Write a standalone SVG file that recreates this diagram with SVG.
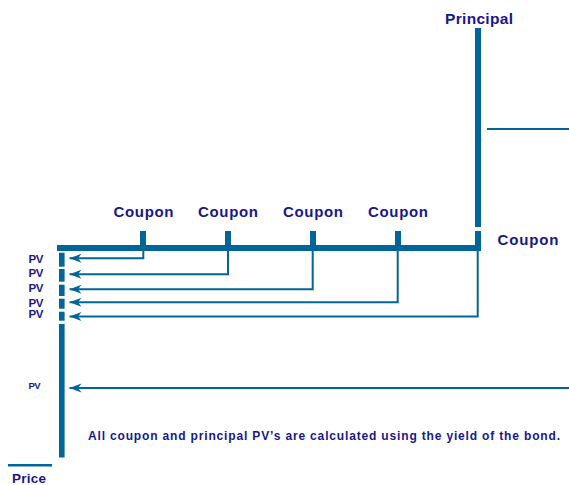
<svg xmlns="http://www.w3.org/2000/svg" width="569" height="485" viewBox="0 0 569 485">
<style>
.bar{fill:#006699}
.ln{fill:none;stroke:#006699;stroke-width:2}
.t{font-family:"Liberation Sans",Arial,sans-serif;font-weight:bold;fill:#18188a}
</style>
<defs>
<marker id="ah" markerUnits="userSpaceOnUse" markerWidth="14" markerHeight="12" viewBox="0 -6 14 12" refX="12" refY="0" orient="auto">
<path d="M12,0 L0,-4.5 L3.5,0 L0,4.5 Z" fill="#006699"/>
</marker>
</defs>
<rect width="569" height="485" fill="#fff"/>
<g id="timeline">
<rect class="bar" x="57" y="245" width="424" height="6"/>
</g>
<g id="coupon1"><rect class="bar" x="140" y="231" width="6" height="14"/><text class="t" x="113.5" y="217" font-size="15" textLength="60">Coupon</text></g>
<g id="coupon2"><rect class="bar" x="225" y="231" width="6" height="14"/><text class="t" x="198" y="217" font-size="15" textLength="60">Coupon</text></g>
<g id="coupon3"><rect class="bar" x="310" y="231" width="6" height="14"/><text class="t" x="283" y="217" font-size="15" textLength="60">Coupon</text></g>
<g id="coupon4"><rect class="bar" x="395" y="231" width="6" height="14"/><text class="t" x="368" y="217" font-size="15" textLength="60">Coupon</text></g>
<g id="coupon5"><rect class="bar" x="475" y="231" width="6" height="14"/><text class="t" x="497.5" y="245" font-size="15" textLength="61">Coupon</text></g>
<g id="principal"><rect class="bar" x="475" y="28" width="6" height="199"/><text class="t" x="445" y="23.5" font-size="15.5" textLength="68">Principal</text><line class="ln" x1="487" y1="129" x2="569" y2="129"/></g>
<g id="price-axis">
<rect class="bar" x="59" y="252.7" width="5.6" height="14"/>
<rect class="bar" x="59" y="269" width="5.6" height="12.7"/>
<rect class="bar" x="59" y="284.7" width="5.6" height="11.3"/>
<rect class="bar" x="59" y="298.7" width="5.6" height="10"/>
<rect class="bar" x="59" y="311.7" width="5.6" height="9"/>
<rect class="bar" x="59" y="324" width="5.6" height="133.5"/>
<text class="t" x="28.5" y="263" font-size="11.5" textLength="15">PV</text>
<text class="t" x="28.5" y="277" font-size="11.5" textLength="15">PV</text>
<text class="t" x="28.5" y="292" font-size="11.5" textLength="15">PV</text>
<text class="t" x="28.5" y="307" font-size="11.5" textLength="15">PV</text>
<text class="t" x="28.5" y="318.3" font-size="11.5" textLength="15">PV</text>
<text class="t" x="28.5" y="389" font-size="9.5" textLength="12">PV</text>
</g>
<g id="price"><line x1="8" y1="465.3" x2="52" y2="465.3" stroke="#006699" stroke-width="2.6"/><text class="t" x="12" y="483.3" font-size="13.5" textLength="34">Price</text></g>
<g id="note"><text class="t" x="88" y="440" font-size="12" textLength="472">All coupon and principal PV’s are calculated using the yield of the bond.</text></g>
<g id="connectors">
<path class="ln" d="M143.3,251 V258.3 H69.5" marker-end="url(#ah)"/>
<path class="ln" d="M228,251 V274.3 H69.5" marker-end="url(#ah)"/>
<path class="ln" d="M312.7,251 V289.3 H69.5" marker-end="url(#ah)"/>
<path class="ln" d="M397.7,251 V302.3 H69.5" marker-end="url(#ah)"/>
<path class="ln" d="M477.7,251 V316.5 H69.5" marker-end="url(#ah)"/>
<path class="ln" d="M569,388 H69.5" marker-end="url(#ah)"/>
</g>
</svg>
